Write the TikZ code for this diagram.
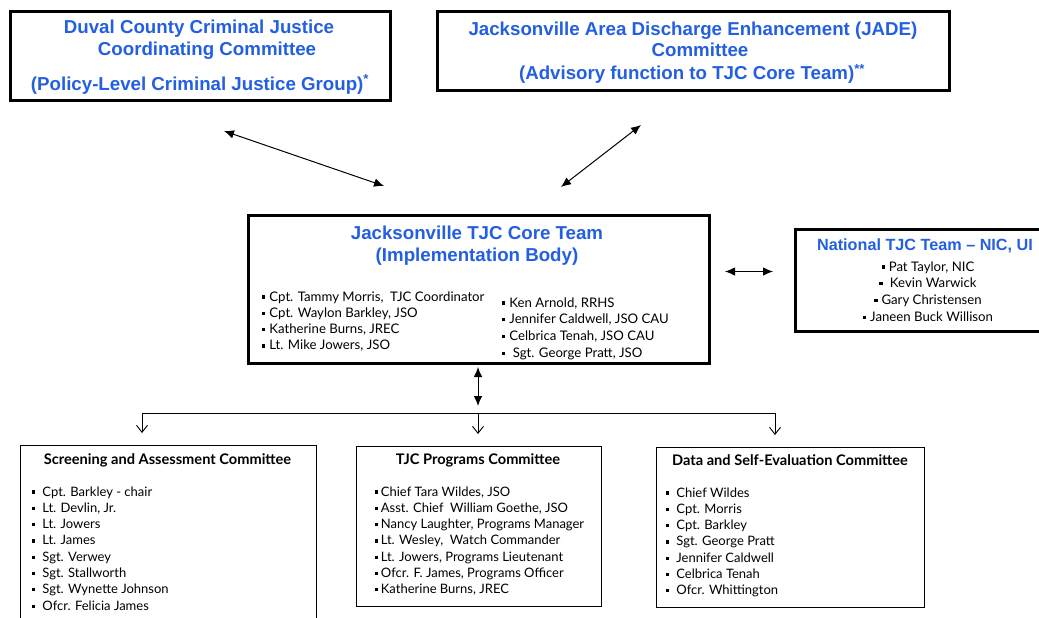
\documentclass[tikz,border=0pt]{standalone}
\usepackage{fontspec}
\setmainfont{Lato}
\newfontfamily\ttlfont{Liberation Sans}
\usetikzlibrary{arrows.meta}
\definecolor{tblue}{RGB}{35,95,225}
\newcommand\bl[1][5pt]{\rule[2.4pt]{3.2pt}{3.2pt}\hspace{#1}}
\begin{document}
\begin{tikzpicture}[x=1pt,y=-1pt,
  bigbox/.style={draw, line width=2.6pt, inner sep=0pt, anchor=north west},
  subbox/.style={draw, line width=1.2pt, inner sep=0pt, anchor=north west},
  ttl/.style={font=\ttlfont\bfseries\fontsize{18.7}{20}\selectfont, text=tblue, inner sep=0pt, anchor=base},
  mem/.style={font=\fontsize{13.2}{15}\selectfont, inner sep=0pt, anchor=base west},
  bmem/.style={font=\fontsize{13}{15}\selectfont, inner sep=0pt, anchor=base west},
  subttl/.style={font=\bfseries\fontsize{14.6}{16}\selectfont, inner sep=0pt, anchor=base},
  link/.style={line width=1pt, {Latex[length=10pt,width=8.5pt]}-{Latex[length=10pt,width=8.5pt]}},
  feed/.style={line width=0.9pt, -{Straight Barb[length=7pt,width=11pt]}},
]
\useasboundingbox[fill=white] (0,0) rectangle (1039,618);
% boxes
\node[bigbox, minimum width=380pt, minimum height=89pt] (duval) at (9,10) {};
\node[bigbox, minimum width=512pt, minimum height=79pt] (jade) at (436,10) {};
\node[bigbox, minimum width=461pt, minimum height=148pt] (core) at (247,214) {};
\node[bigbox, minimum width=270pt, minimum height=102pt] (natl) at (794,228) {};
\node[subbox, minimum width=296pt, minimum height=200pt] (scr) at (20,445) {};
\node[subbox, minimum width=245pt, minimum height=160pt] (prog) at (356,446) {};
\node[subbox, minimum width=268pt, minimum height=160pt] (data) at (656,447) {};
% titles
\node[ttl] (duvalt1) at (199,33.3) {Duval County Criminal Justice};
\node[ttl] (duvalt2) at (207,56) {Coordinating Committee};
\node[ttl] (duvalt3) at (200,90) {(Policy-Level Criminal Justice Group)\textsuperscript{*}};
\node[ttl] (jadet1) at (693,35.3) {Jacksonville Area Discharge Enhancement (JADE)};
\node[ttl] (jadet2) at (700,56.7) {Committee};
\node[ttl] (jadet3) at (692,79.3) {(Advisory function to TJC Core Team)\textsuperscript{**}};
\node[ttl] (coret1) at (477,239) {Jacksonville TJC Core Team};
\node[ttl] (coret2) at (477,261) {(Implementation Body)};
\node[ttl, font=\ttlfont\bfseries\fontsize{16.2}{18}\selectfont] (natlt) at (925,250.7) {National TJC Team – NIC, UI};
% core members
\foreach \t [count=\i] in {{Cpt. Tammy Morris,\ \ TJC Coordinator},{Cpt. Waylon Barkley, JSO},{Katherine Burns, JREC},{Lt. Mike Jowers, JSO}}
  \node[mem] (cl\i) at (262,{301+16.3*(\i-1)}) {\bl[4pt]\t};
\foreach \t [count=\i] in {{Ken Arnold, RRHS},{Jennifer Caldwell, JSO CAU},{Celbrica Tenah, JSO CAU},{\ Sgt. George Pratt, JSO}}
  \node[mem] (cr\i) at (502,{307+16.7*(\i-1)}) {\bl[4pt]\t};
% national members
\foreach \t [count=\i] in {{Pat Taylor, NIC},{\ Kevin Warwick},{Gary Christensen},{Janeen Buck Willison}}
  \node[mem, anchor=base] (nm\i) at (928,{271+16.8*(\i-1)}) {\bl[4pt]\t};
% sub titles
\node[subttl] (scrt) at (167.5,464) {Screening and Assessment Committee};
\node[subttl] (progt) at (478,464) {TJC Programs Committee};
\node[subttl] (datat) at (790,465) {Data and Self-Evaluation Committee};
\foreach \t [count=\i] in {{Cpt. Barkley - chair},{Lt. Devlin, Jr.},{Lt. Jowers},{Lt. James},{Sgt. Verwey},{Sgt. Stallworth},{Sgt. Wynette Johnson},{Ofcr. Felicia James}}
  \node[bmem] (sm\i) at (32,{496+16.3*(\i-1)}) {\bl[7pt]\t};
\foreach \t [count=\i] in {{Chief Tara Wildes, JSO},{Asst. Chief\ \ William\ Goethe, JSO},{Nancy Laughter, Programs Manager},{Lt. Wesley,\ \ Watch Commander},{Lt. Jowers, Programs Lieutenant},{Ofcr. F. James, Programs Officer},{Katherine Burns, JREC}}
  \node[bmem] (pm\i) at (375,{496+16.3*(\i-1)}) {\bl[2.5pt]\t};
\foreach \t [count=\i] in {{Chief Wildes},{Cpt. Morris},{Cpt. Barkley},{Sgt. George Pratt},{Jennifer Caldwell},{Celbrica Tenah},{Ofcr. Whittington}}
  \node[bmem] (dm\i) at (666,{497+16.3*(\i-1)}) {\bl[7pt]\t};
% connectors
\coordinate (a1) at (224,131); \coordinate (a2) at (384,186);
\coordinate (b1) at (641,125); \coordinate (b2) at (561,187);
\coordinate (c1) at (725,271.5); \coordinate (c2) at (773,271.5);
\coordinate (d1) at (478,367); \coordinate (d2) at (478,406);
\draw[link] (a1) -- (a2);
\draw[link] (b1) -- (b2);
\draw[link] (c1) -- (c2);
\draw[link] (d1) -- (d2);
\coordinate (h1) at (142,413); \coordinate (hm) at (478,413); \coordinate (h2) at (775,413);
\draw[line width=0.9pt] (h1) -- (h2);
\draw[feed, shorten >=12pt] (h1) -- (h1 |- scr.north);
\draw[feed, shorten >=12pt] (hm) -- (hm |- prog.north);
\draw[feed, shorten >=12pt] (h2) -- (h2 |- data.north);
\end{tikzpicture}
\end{document}
